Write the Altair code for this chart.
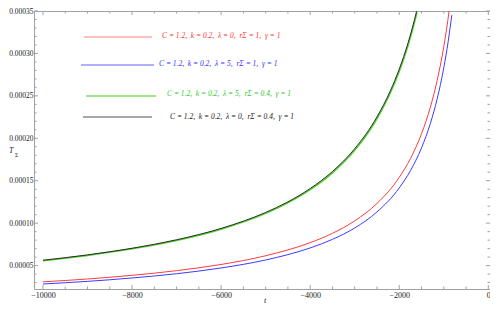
import altair as alt
import pandas as pd

# ---- data ----
t_black = [-10000, -9000, -8000, -7000, -6000, -5000, -4500, -4000, -3500, -3000, -2500, -2200, -2000, -1800, -1700, -1610]
v_black = [5.63e-5, 6.26e-5, 7.04e-5, 8.04e-5, 9.38e-5, 1.126e-4, 1.251e-4, 1.408e-4, 1.609e-4, 1.877e-4, 2.252e-4, 2.559e-4, 2.815e-4, 3.128e-4, 3.312e-4, 3.497e-4]

t_green = [-10000, -9000, -8000, -7000, -6000, -5000, -4500, -4000, -3500, -3000, -2500, -2200, -2000, -1800, -1700, -1600]
v_green = [5.57e-5, 6.20e-5, 6.97e-5, 7.96e-5, 9.29e-5, 1.115e-4, 1.239e-4, 1.394e-4, 1.593e-4, 1.858e-4, 2.230e-4, 2.533e-4, 2.787e-4, 3.097e-4, 3.279e-4, 3.482e-4]

t_red = [-10000, -9000, -8000, -7000, -6000, -5000, -4000, -3500, -3000, -2500, -2000, -1750, -1500, -1300, -1150, -1000, -940, -880]
v_red = [3.08e-5, 3.42e-5, 3.85e-5, 4.40e-5, 5.13e-5, 6.16e-5, 7.70e-5, 8.80e-5, 1.027e-4, 1.232e-4, 1.540e-4, 1.760e-4, 2.053e-4, 2.369e-4, 2.678e-4, 3.080e-4, 3.277e-4, 3.500e-4]

t_blue = [-10000, -9000, -8000, -7000, -6000, -5000, -4000, -3500, -3000, -2500, -2000, -1750, -1500, -1300, -1150, -1000, -900, -820]
v_blue = [2.83e-5, 3.14e-5, 3.54e-5, 4.04e-5, 4.72e-5, 5.66e-5, 7.08e-5, 8.09e-5, 9.43e-5, 1.132e-4, 1.415e-4, 1.617e-4, 1.887e-4, 2.177e-4, 2.461e-4, 2.830e-4, 3.144e-4, 3.451e-4]

NB = "\u00a0"
legend_labels = [
    f"C{NB}={NB}1.2,{NB}{NB}k{NB}={NB}0.2,{NB}{NB}λ{NB}={NB}0,{NB}{NB}rΣ{NB}={NB}1,{NB}{NB}γ{NB}={NB}1",
    f"C{NB}={NB}1.2,{NB}{NB}k{NB}={NB}0.2,{NB}{NB}λ{NB}={NB}5,{NB}{NB}rΣ{NB}={NB}1,{NB}{NB}γ{NB}={NB}1",
    f"C{NB}={NB}1.2,{NB}{NB}k{NB}={NB}0.2,{NB}{NB}λ{NB}={NB}5,{NB}{NB}rΣ{NB}={NB}0.4,{NB}{NB}γ{NB}={NB}1",
    f"C{NB}={NB}1.2,{NB}{NB}k{NB}={NB}0.2,{NB}{NB}λ{NB}={NB}0,{NB}{NB}rΣ{NB}={NB}0.4,{NB}{NB}γ{NB}={NB}1",
]

x_major = [-10000, -8000, -6000, -4000, -2000, 0]
x_minor = [-9500, -9000, -8500, -7500, -7000, -6500, -5500, -5000, -4500,
           -3500, -3000, -2500, -1500, -1000, -500]
y_major = [0.00005, 0.00010, 0.00015, 0.00020, 0.00025, 0.00030, 0.00035]
y_minor = [0.00003, 0.00004, 0.00006, 0.00007, 0.00008, 0.00009,
           0.00011, 0.00012, 0.00013, 0.00014, 0.00016, 0.00017, 0.00018, 0.00019,
           0.00021, 0.00022, 0.00023, 0.00024, 0.00026, 0.00027, 0.00028, 0.00029,
           0.00031, 0.00032, 0.00033, 0.00034]

# ---- styling ----
W, H = 456, 278
FONT = "Liberation Serif"
FRAME = "#a0a0a0"
xs = alt.Scale(domain=[-10202, 38], nice=False, zero=False)
ys = alt.Scale(domain=[0.0000224, 0.00035], nice=False, zero=False)

xaxis = alt.Axis(values=x_major, format="d", title=None, ticks=False, domain=False, grid=False,
                 labelFont=FONT, labelFontSize=8, labelColor="#222222", labelPadding=2, labelFlush=False)
yaxis = alt.Axis(values=y_major, format=".5f", title=None, ticks=False, domain=False, grid=False,
                 labelFont=FONT, labelFontSize=7.5, labelColor="#222222", labelPadding=1, labelFlush=False)

layers = []

def curve(t, v, color, width):
    return alt.Chart(pd.DataFrame({"t": t, "v": v})).mark_line(
        color=color, strokeWidth=width, interpolate="monotone", clip=True
    ).encode(x=alt.X("t:Q", scale=xs, axis=xaxis), y=alt.Y("v:Q", scale=ys, axis=yaxis))

layers.append(curve(t_red, v_red, "#ff3b3b", 1))
layers.append(curve(t_blue, v_blue, "#3b3bff", 1))
layers.append(curve(t_green, v_green, "#4ed32a", 1.5))
layers.append(curve(t_black, v_black, "#2a2a2a", 1))

# inward frame ticks
def xticks(vals, length):
    df = pd.DataFrame({"t": vals})
    bottom = alt.Chart(df).mark_rule(color=FRAME, strokeWidth=1).encode(
        x=alt.X("t:Q", scale=xs, axis=xaxis), y=alt.value(H), y2=alt.value(H - length))
    top = alt.Chart(df).mark_rule(color=FRAME, strokeWidth=1).encode(
        x=alt.X("t:Q", scale=xs, axis=xaxis), y=alt.value(0), y2=alt.value(length))
    return [bottom, top]

def yticks(vals, length):
    df = pd.DataFrame({"v": vals})
    left = alt.Chart(df).mark_rule(color=FRAME, strokeWidth=1).encode(
        y=alt.Y("v:Q", scale=ys, axis=yaxis), x=alt.value(0), x2=alt.value(length))
    right = alt.Chart(df).mark_rule(color=FRAME, strokeWidth=1).encode(
        y=alt.Y("v:Q", scale=ys, axis=yaxis), x=alt.value(W), x2=alt.value(W - length))
    return [left, right]

layers += xticks(x_major, 4) + xticks(x_minor, 2.5)
layers += yticks(y_major, 4) + yticks(y_minor, 2.5)

# legend drawn inside the plot
leg_line_colors = ["#ff8080", "#6060ff", "#80dd60", "#a8a8a8"]
leg_line_widths = [1, 1, 1.5, 2]
leg_text_colors = ["#ff3333", "#3333ff", "#33cc33", "#222222"]
leg_x1 = [50, 47, 52, 49]
leg_x2 = [118, 120, 122, 118]
leg_ly = [26, 54, 85, 106]
leg_tx = [128, 125, 133, 136]
leg_ty = [25, 53, 83, 106]
for i, lab in enumerate(legend_labels):
    d = pd.DataFrame({"label": [lab]})
    layers.append(alt.Chart(d).mark_rule(color=leg_line_colors[i], strokeWidth=leg_line_widths[i]).encode(
        x=alt.value(leg_x1[i]), x2=alt.value(leg_x2[i]), y=alt.value(leg_ly[i])))
    layers.append(alt.Chart(d).mark_text(align="left", baseline="middle", font=FONT, fontSize=7.5,
                                         fontStyle="italic", color=leg_text_colors[i]).encode(
        x=alt.value(leg_tx[i]), y=alt.value(leg_ty[i]), text="label:N"))

# axis titles
tdf = pd.DataFrame({"s": ["t"]})
layers.append(alt.Chart(tdf).mark_text(font=FONT, fontSize=8, fontStyle="italic", color="#222222",
                                       baseline="middle", align="center").encode(
    x=alt.value(231), y=alt.value(H + 12), text="s:N"))
Tdf = pd.DataFrame({"s": ["T"]})
layers.append(alt.Chart(Tdf).mark_text(font=FONT, fontSize=8, fontStyle="italic", color="#222222",
                                       baseline="middle", align="left").encode(
    x=alt.value(-25), y=alt.value(140), text="s:N"))
Sdf = pd.DataFrame({"s": ["Σ"]})
layers.append(alt.Chart(Sdf).mark_text(font=FONT, fontSize=5.5, color="#222222",
                                       baseline="middle", align="left").encode(
    x=alt.value(-19), y=alt.value(144), text="s:N"))

chart = alt.layer(*layers).properties(
    width=W, height=H,
    autosize=alt.AutoSizeParams(type="none"),
    padding={"left": 26, "top": 3, "right": 0, "bottom": 15},
).configure_view(stroke=FRAME, strokeWidth=1)

chart.save("out.html", embed_options={"renderer": "svg", "actions": False})
